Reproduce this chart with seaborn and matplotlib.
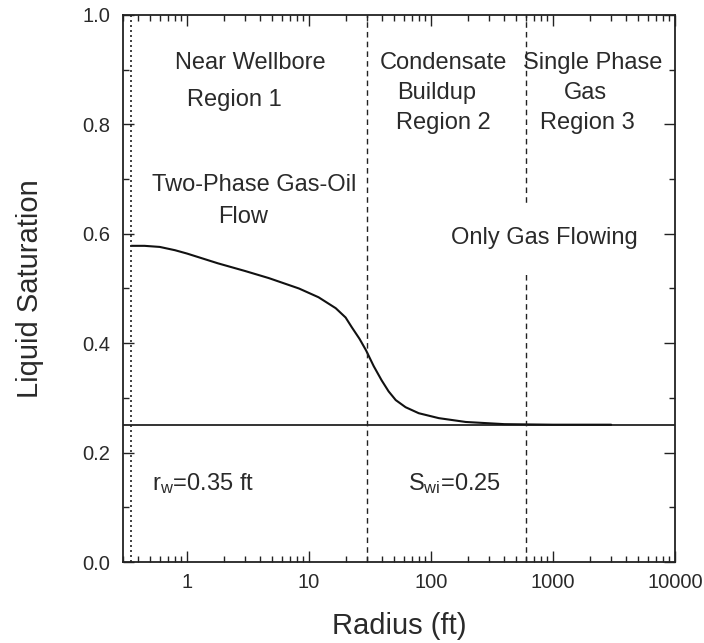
import matplotlib
matplotlib.use("Agg")
import matplotlib.pyplot as plt
import matplotlib.ticker as mticker
import pandas as pd
import seaborn as sns

# ---- data ----
radius_ft = [0.35, 0.45, 0.6, 0.8, 1.0, 1.8, 3.0, 4.7, 8.3, 12.0, 16.6, 20.0,
             22.5, 26.0, 29.4, 34.0, 39.5, 45.0, 51.5, 62.0, 79.5, 116.0,
             193.0, 400.0, 1000.0, 3000.0]
liquid_sat = [0.578, 0.578, 0.576, 0.570, 0.564, 0.546, 0.532, 0.519, 0.500,
              0.484, 0.464, 0.447, 0.429, 0.408, 0.387, 0.358, 0.332, 0.312,
              0.296, 0.283, 0.272, 0.263, 0.256, 0.252, 0.251, 0.251]
swi = 0.25
rw = 0.35
r_region12 = 30
r_region23 = 600
x_ticks = [1, 10, 100, 1000, 10000]
x_tick_labels = ["1", "10", "100", "1000", "10000"]
y_ticks = [0.0, 0.2, 0.4, 0.6, 0.8, 1.0]

sns.set_style("ticks")
plt.rcParams['font.family'] = ['Liberation Sans', 'DejaVu Sans']
plt.rcParams['mathtext.fontset'] = 'custom'
plt.rcParams['mathtext.rm'] = 'Liberation Sans'
plt.rcParams['mathtext.it'] = 'Liberation Sans'

TXT = '#2a2a2a'
fig = plt.figure(figsize=(7.04, 6.43), dpi=100)
ax = fig.add_axes([123/704, 1-562/643, 552/704, 547/643])

df = pd.DataFrame({"Radius (ft)": radius_ft, "Liquid Saturation": liquid_sat})
sns.lineplot(data=df, x="Radius (ft)", y="Liquid Saturation", ax=ax,
             color='#111111', linewidth=1.5, estimator=None, sort=True)

ax.axhline(swi, color='#111111', linewidth=1.2)
ax.axvline(rw, color='#222222', linewidth=1.2, linestyle=(0, (1.2, 1.8)))
ax.axvline(r_region12, color='#222222', linewidth=1.0, linestyle=(0, (4, 3)))
ax.axvline(r_region23, color='#222222', linewidth=1.0, linestyle=(0, (4, 3)))

ax.set_xscale('log')
ax.set_xlim(0.3, 10000)
ax.set_ylim(0, 1.0)
ax.xaxis.set_major_locator(mticker.FixedLocator(x_ticks))
ax.xaxis.set_major_formatter(mticker.FixedFormatter(x_tick_labels))
ax.xaxis.set_minor_locator(mticker.LogLocator(base=10, subs=range(2, 10), numticks=50))
ax.xaxis.set_minor_formatter(mticker.NullFormatter())
ax.set_yticks(y_ticks)
ax.yaxis.set_major_formatter(mticker.FormatStrFormatter('%.1f'))
ax.yaxis.set_minor_locator(mticker.MultipleLocator(0.1))

ax.tick_params(which='both', direction='in', top=True, right=True,
               colors='#222222', labelcolor=TXT)
ax.tick_params(which='major', length=8, width=1.0, labelsize=14.5)
ax.tick_params(which='minor', length=4, width=1.0)
ax.tick_params(axis='x', which='major', pad=8)
ax.tick_params(axis='y', which='major', pad=9)
for s in ax.spines.values():
    s.set_linewidth(1.3)
    s.set_color('#222222')

ax.set_xlabel("Radius (ft)", fontsize=21, color=TXT, labelpad=14)
ax.set_ylabel("Liquid Saturation", fontsize=21, color=TXT, labelpad=28)

fs = 17
def t(x, y, s, **kw):
    ax.text(x, y, s, transform=ax.transAxes, ha='center', va='center',
            fontsize=fs, color=TXT, **kw)

t(0.230, 0.912, "Near Wellbore")
t(0.201, 0.845, "Region 1")
t(0.237, 0.689, "Two-Phase Gas-Oil")
t(0.217, 0.631, "Flow")
t(0.580, 0.912, "Condensate")
t(0.569, 0.857, "Buildup")
t(0.580, 0.803, "Region 2")
t(0.851, 0.912, "Single Phase")
t(0.837, 0.857, "Gas")
t(0.842, 0.803, "Region 3")
t(0.764, 0.592, "Only Gas Flowing",
  bbox=dict(boxstyle='square,pad=1.0', facecolor='white', edgecolor='none'))
t(0.145, 0.144, r"r$_\mathrm{w}$=0.35 ft")
t(0.601, 0.144, r"S$_\mathrm{wi}$=0.25")

fig.savefig("out.png", dpi=100, facecolor='white')
